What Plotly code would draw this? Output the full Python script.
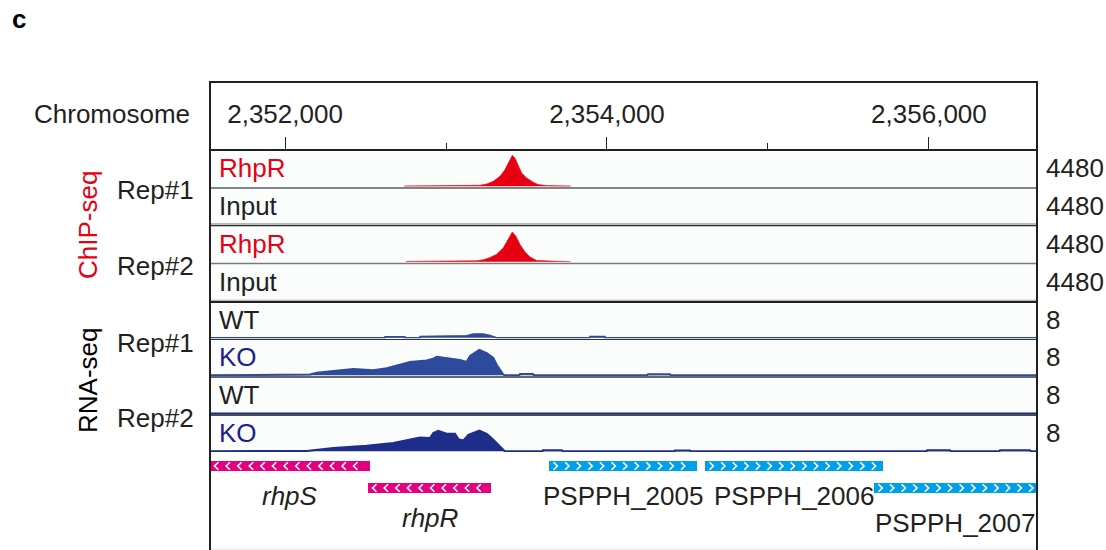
import plotly.graph_objects as go

W, H = 1106, 550
def px(x): return x / W
def py(y): return 1 - y / H

# ---------------- data ----------------
x_view = [2351534, 2356665]
major_tick0, major_step, minor_step = 2352000, 2000, 1000

chip_scale = 4480
rna_scale = 8

rhpr_rep1_pos = [2352740, 2352745, 2353211, 2353253, 2353294, 2353335, 2353366, 2353387, 2353412,
                 2353429, 2353449, 2353470, 2353501, 2353542, 2353573, 2353625, 2353770, 2353775]
rhpr_rep1_val = [0, 40, 119, 278, 595, 1190, 1983, 2776, 3727, 3370, 2379, 1586, 991, 476, 198, 79, 40, 0]

rhpr_rep2_pos = [2352750, 2352756, 2353190, 2353232, 2353273, 2353315, 2353356, 2353387, 2353412,
                 2353435, 2353460, 2353491, 2353522, 2353563, 2353770, 2353775]
rhpr_rep2_val = [0, 39, 117, 234, 506, 896, 1675, 2649, 3584, 3039, 2065, 1169, 584, 156, 39, 0]

input_rep1_pos = [2351500, 2356700]
input_rep1_val = [0, 0]
input_rep2_pos = [2351500, 2356700]
input_rep2_val = [0, 0]

wt_rep1_pos = [2351500, 2352621, 2352621, 2352745, 2352745, 2352838, 2352838, 2353087, 2353130,
               2353170, 2353232, 2353273, 2353315, 2353894, 2353894, 2353988, 2353988, 2356700]
wt_rep1_val = [0, 0, 0.2, 0.2, 0, 0, 0.3, 0.3, 0.45, 0.8, 0.8, 0.5, 0, 0, 0.3, 0.3, 0, 0]

ko_rep1_pos = [2351500, 2352150, 2352155, 2352197, 2352342, 2352424, 2352549, 2352632, 2352714,
               2352776, 2352880, 2352921, 2352942, 2353004, 2353087, 2353128, 2353149, 2353207,
               2353253, 2353294, 2353315, 2353356, 2353365, 2353455, 2353460, 2353540, 2353545,
               2354250, 2354255, 2354391, 2354396, 2356700]
ko_rep1_val = [0, 0, 0.15, 0.54, 1.0, 1.38, 1.08, 1.54, 2.3, 2.9, 3.2, 3.6, 4.0, 3.7, 3.3, 2.9,
               4.2, 5.5, 4.8, 3.8, 2.3, 0.15, 0, 0, 0.3, 0.3, 0, 0, 0.2, 0.2, 0, 0]

wt_rep2_pos = [2351500, 2352404, 2352404, 2352549, 2352549, 2352745, 2352745, 2353304, 2353304, 2356700]
wt_rep2_val = [0, 0, 0.15, 0.15, 0, 0, 0.15, 0.15, 0, 0]

ko_rep2_pos = [2351500, 2352120, 2352134, 2352300, 2352507, 2352673, 2352776, 2352838, 2352901,
               2352921, 2352952, 2353004, 2353056, 2353077, 2353108, 2353139, 2353207, 2353253,
               2353294, 2353356, 2353365, 2353600, 2353602, 2353720, 2353725, 2354420, 2354422,
               2354516, 2354520, 2355985, 2355988, 2356130, 2356135, 2356438, 2356441, 2356627,
               2356632, 2356700]
ko_rep2_val = [0, 0, 0.07, 0.7, 1.2, 1.77, 2.48, 2.97, 2.83, 3.9, 4.39, 3.75, 3.75, 2.6, 2.3, 3.5,
               4.46, 3.75, 2.48, 0.2, 0, 0, 0.2, 0.2, 0, 0, 0.15, 0.15, 0, 0, 0.2, 0.2, 0, 0,
               0.2, 0.2, 0, 0]

gene_names = ["rhpS", "rhpR", "PSPPH_2005", "PSPPH_2006", "PSPPH_2007"]
gene_start = [2351534, 2352516, 2353640, 2354609, 2355658]
gene_end = [2352528, 2353280, 2354559, 2355714, 2356900]
gene_strand = ["-", "-", "+", "+", "+"]
gene_row = [1, 2, 1, 1, 2]
gene_italic = [True, True, False, False, False]

# ---------------- layout helpers ----------------
TXT = "#231f20"
RED = "#e60012"
KOBLUE = "#1d2088"
FONT = "Arial, Liberation Sans, Helvetica, sans-serif"
FS = 26

bounds = [149, 187, 224.5, 262.5, 301, 338.5, 376, 414, 452]
tracks = [
    ("RhpR", RED, rhpr_rep1_pos, rhpr_rep1_val, chip_scale, RED, 0.6),
    ("Input", TXT, input_rep1_pos, input_rep1_val, chip_scale, "#a0a0a0", 1),
    ("RhpR", RED, rhpr_rep2_pos, rhpr_rep2_val, chip_scale, RED, 0.6),
    ("Input", TXT, input_rep2_pos, input_rep2_val, chip_scale, "#a0a0a0", 1),
    ("WT", TXT, wt_rep1_pos, wt_rep1_val, rna_scale, "#2d4a9c", 1.5),
    ("KO", KOBLUE, ko_rep1_pos, ko_rep1_val, rna_scale, "#2d4a9c", 2),
    ("WT", TXT, wt_rep2_pos, wt_rep2_val, rna_scale, "#1f2d8a", 1.5),
    ("KO", KOBLUE, ko_rep2_pos, ko_rep2_val, rna_scale, "#1f2d8a", 2),
]

fig = go.Figure()
annotations = []
shapes = []
layout_axes = {}

x_dom = [px(210), px(1036)]

for i, (lab, labcol, pos, val, scale, col, lw) in enumerate(tracks):
    k = i + 1
    yname = "y" if k == 1 else f"y{k}"
    akey = "yaxis" if k == 1 else f"yaxis{k}"
    top, bot = bounds[i], bounds[i + 1]
    pad = scale * 0.02
    layout_axes[akey] = dict(domain=[py(bot), py(top)], range=[-pad, scale], anchor="x",
                             visible=False, fixedrange=True)
    fig.add_trace(go.Scatter(x=pos, y=val, mode="lines", fill="tozeroy", fillcolor=col,
                             line=dict(color=col, width=lw), yaxis=yname, xaxis="x",
                             hoverinfo="skip", showlegend=False))
    annotations.append(dict(text=lab, xref="paper", x=px(217), xanchor="left",
                            yref=f"{yname} domain", y=0.5, yanchor="middle", showarrow=False,
                            font=dict(family=FONT, size=FS, color=labcol)))
    annotations.append(dict(text=str(scale), xref="paper", x=px(1044), xanchor="left",
                            yref=f"{yname} domain", y=0.5, yanchor="middle", showarrow=False,
                            font=dict(family=FONT, size=FS, color=TXT)))

# separators (bottom of each track)
sep_style = [("#5a5a5a", 1.5), ("#2a2a2a", 1.5), ("#7a7a7a", 1.5), ("#231f20", 2),
             ("#333333", 1.2), ("#333333", 1.5), ("#111111", 1.5), None]
for i, st in enumerate(sep_style):
    if st is None:
        continue
    yb = bounds[i + 1]
    shapes.append(dict(type="line", xref="paper", yref="paper", x0=px(210), x1=px(1036),
                       y0=py(yb + 1), y1=py(yb + 1), line=dict(color=st[0], width=st[1]),
                       layer="above"))

# track background
shapes.append(dict(type="rect", xref="paper", yref="paper", x0=px(210), x1=px(1036),
                   y0=py(452), y1=py(149), fillcolor="#fbfdfd", line=dict(width=0), layer="below"))

# ---------------- gene track ----------------
g_top, g_bot = 452, 550
row_px = 22.0
r1_px = 466
ymin_val = 1 - (r1_px - g_top) / row_px
ymax_val = 1 + (g_bot - r1_px) / row_px
layout_axes["yaxis9"] = dict(domain=[0, py(g_top)], range=[ymax_val, ymin_val], anchor="x",
                             visible=False, fixedrange=True)

bar_colors = ["#e4007f" if s == "-" else "#00a0e9" for s in gene_strand]
fig.add_trace(go.Bar(orientation="h", base=gene_start,
                     x=[e - s for s, e in zip(gene_start, gene_end)], y=gene_row,
                     width=0.46, marker=dict(color=bar_colors, line=dict(width=0)),
                     yaxis="y9", xaxis="x", hoverinfo="skip", showlegend=False))

# chevrons
cx, cy = [], []
step, cw, ch = 72, 24, 0.17
for s, e, strand, r in zip(gene_start, gene_end, gene_strand, gene_row):
    p = s + 28
    while p + cw < e - 12:
        if strand == "-":
            cx += [p + cw, p, p + cw, None]
        else:
            cx += [p, p + cw, p, None]
        cy += [r - ch, r, r + ch, None]
        p += step
fig.add_trace(go.Scatter(x=cx, y=cy, mode="lines", line=dict(color="white", width=1.6),
                         yaxis="y9", xaxis="x", hoverinfo="skip", showlegend=False))

for name, s, e, r, it in zip(gene_names, gene_start, gene_end, gene_row, gene_italic):
    xc = (s + min(e, x_view[1])) / 2
    txt = f"<i>{name}</i>" if it else name
    dy = 1.38 if it or r == 1 else 1.6
    annotations.append(dict(text=txt, xref="x", x=xc, yref="y9", y=r + dy, xanchor="center",
                            yanchor="middle", showarrow=False,
                            font=dict(family=FONT, size=FS, color=TXT)))

# ---------------- left labels ----------------
annotations.append(dict(text="Chromosome", xref="paper", x=px(192), xanchor="right",
                        yref="paper", y=py(114), yanchor="middle", showarrow=False,
                        font=dict(family=FONT, size=FS, color=TXT)))
for txt, yv in [("Rep#1", 190), ("Rep#2", 266), ("Rep#1", 343), ("Rep#2", 418)]:
    annotations.append(dict(text=txt, xref="paper", x=px(196), xanchor="right",
                            yref="paper", y=py(yv), yanchor="middle", showarrow=False,
                            font=dict(family=FONT, size=FS, color=TXT)))
annotations.append(dict(text="ChIP-seq", textangle=-90, xref="paper", x=px(88), xanchor="center",
                        yref="paper", y=py(225), yanchor="middle", showarrow=False,
                        font=dict(family=FONT, size=FS, color=RED)))
annotations.append(dict(text="RNA-seq", textangle=-90, xref="paper", x=px(88), xanchor="center",
                        yref="paper", y=py(381), yanchor="middle", showarrow=False,
                        font=dict(family=FONT, size=FS, color="#000000")))
annotations.append(dict(text="<b>c</b>", xref="paper", x=px(10), xanchor="left",
                        yref="paper", y=py(19), yanchor="middle", showarrow=False,
                        font=dict(family=FONT, size=26, color="#000000")))

# frame
shapes.append(dict(type="rect", xref="paper", yref="paper", x0=px(210), x1=px(1037),
                   y0=py(556), y1=py(82), line=dict(color=TXT, width=2), layer="above"))
shapes.append(dict(type="line", xref="paper", yref="paper", x0=px(211), x1=px(1036),
                   y0=py(549), y1=py(549), line=dict(color="#e4e4e4", width=1), layer="above"))

fig.update_layout(
    width=W, height=H, margin=dict(l=0, r=0, t=0, b=0),
    paper_bgcolor="white", plot_bgcolor="rgba(0,0,0,0)",
    showlegend=False,
    xaxis=dict(domain=x_dom, range=x_view, anchor="free", position=py(149), side="top",
               showline=True, linecolor=TXT, linewidth=1.5, showgrid=False, zeroline=False,
               ticks="outside", ticklen=12, tickwidth=1, tickcolor=TXT,
               tick0=major_tick0, dtick=major_step, tickformat=",d",
               tickfont=dict(family=FONT, size=FS, color=TXT), ticklabelstandoff=4,
               minor=dict(ticks="outside", ticklen=6, tickwidth=1, tickcolor=TXT,
                          dtick=minor_step, tick0=major_tick0 + minor_step, showgrid=False),
               fixedrange=True),
    annotations=annotations,
    shapes=shapes,
    bargap=0,
    **layout_axes,
)

fig.write_html("out.html", config={"displayModeBar": False, "staticPlot": True},
               post_script="document.body.style.margin='0';document.body.style.padding='0';")
